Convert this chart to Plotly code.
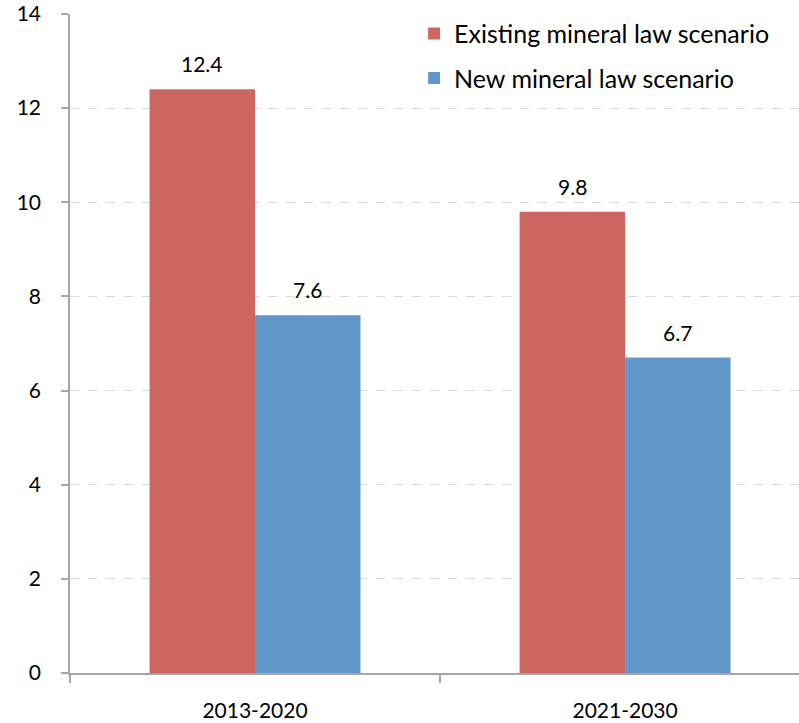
import plotly.graph_objects as go

categories = ["2013-2020", "2021-2030"]
series_names = ["Existing mineral law scenario", "New mineral law scenario"]
existing = [12.4, 9.8]
new = [7.6, 6.7]
colors = ["#CD6660", "#6197CA"]
y_ticks = [0, 2, 4, 6, 8, 10, 12, 14]

FONT = "Lato"
fig = go.Figure()
for i, (name, vals) in enumerate(zip(series_names, [existing, new])):
    fig.add_trace(go.Bar(
        x=categories, y=vals, name=name, marker_color=colors[i],
        marker_line_width=0, legendgroup=f"g{i}",
    ))

bar_px = 105.5
for i, vals in enumerate([existing, new]):
    shift = -bar_px / 2 if i == 0 else bar_px / 2
    for c, v in zip(categories, vals):
        fig.add_annotation(
            x=c, y=v, text=f"{v}", showarrow=False, xshift=shift,
            yanchor="bottom", yshift=11,
            font=dict(family=FONT, size=21, color="#000000"),
        )

fig.update_layout(
    width=799, height=723,
    margin=dict(l=70, r=0, t=14, b=50),
    paper_bgcolor="white", plot_bgcolor="white",
    barmode="group", bargap=0.43, bargroupgap=0,
    font=dict(family=FONT, size=18, color="#000000"),
    legend=dict(
        x=0.472, y=1.005, xanchor="left", yanchor="top",
        font=dict(family=FONT, size=25, color="#000000"),
        tracegroupgap=9, bgcolor="rgba(0,0,0,0)",
        itemwidth=30,
    ),
    showlegend=True,
)
fig.update_xaxes(
    range=[-0.5, 1.47], showline=True, linecolor="#A6A6A6", linewidth=1.5,
    ticks="outside", tickson="boundaries", ticklen=8, tickcolor="#A6A6A6",
    tickwidth=1.5, showgrid=False, ticklabelstandoff=18,
    tickfont=dict(family=FONT, size=21),
)
fig.update_yaxes(
    range=[0, 14], tickvals=y_ticks, showline=True, linecolor="#A6A6A6",
    linewidth=1.5, ticks="outside", ticklen=7, tickcolor="#A6A6A6", tickwidth=1.5,
    showgrid=True, gridcolor="#D9D9D9", griddash="dash", gridwidth=1.2,
    zeroline=False, ticklabelstandoff=16,
    tickfont=dict(family=FONT, size=21),
)

fig.write_html("out.html")
